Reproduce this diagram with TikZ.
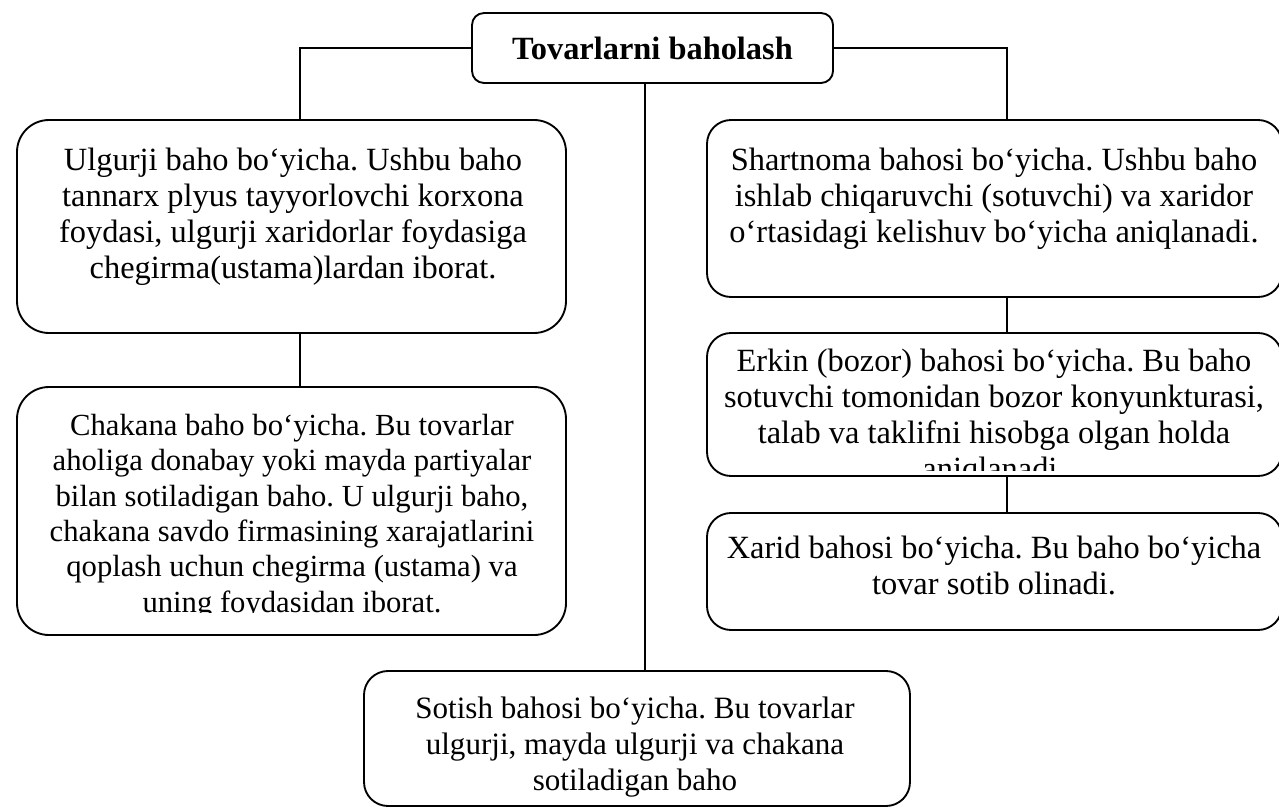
\documentclass[tikz,border=0pt]{standalone}
\usepackage{fontspec}
\setmainfont{Liberation Serif}
\usepackage{tikz}
\usetikzlibrary{positioning, fit}
\tikzstyle{box} = [draw, rectangle, line width=1.4pt, inner sep=0pt, rounded corners=24pt]
\tikzstyle{rbox} = [box, rounded corners=18pt]
\tikzstyle{txt} = [anchor=north, inner sep=0pt, align=center]
\tikzstyle{line} = [line width=1.4pt]
\frenchspacing

\begin{document}
\begin{tikzpicture}[x=0.75pt, y=-0.75pt, every node/.style={font=\fontsize{24.3}{26.9}\selectfont}]
\useasboundingbox (0,0) rectangle (1279,807);
\clip (0,0) rectangle (1279,807);

% Boxes
\node (title) [box, rounded corners=9pt, minimum width=270.75pt, minimum height=52.5pt] at (652.5,48) {\textbf{Tovarlarni baholash}};
\node (ulg) [box, fit={(17,120) (566,333)}] {};
\node (chak) [box, fit={(17,387) (566,635)}] {};
\node (shart) [rbox, fit={(707,120) (1282,297)}] {};
\node (erkin) [rbox, fit={(707,333) (1282,476)}] {};
\node (xarid) [rbox, fit={(707,513) (1282,630)}] {};
\node (sotish) [rbox, fit={(364,671) (910,806)}] {};

% Texts
\node (ulgT) [txt] at (293,148) {Ulgurji baho bo‘yicha. Ushbu baho\\ tannarx plyus tayyorlovchi korxona\\ foydasi, ulgurji xaridorlar foydasiga\\ chegirma(ustama)lardan iborat.};
\begin{scope}
\clip (17,387) rectangle (566,612);
\node (chakT) [txt, font=\fontsize{23}{26.5}\selectfont] at (292,414) {Chakana baho bo‘yicha. Bu tovarlar\\ aholiga donabay yoki mayda partiyalar\\ bilan sotiladigan baho. U ulgurji baho,\\ chakana savdo firmasining xarajatlarini\\ qoplash uchun chegirma (ustama) va\\ uning foydasidan iborat.};
\end{scope}
\node (shartT) [txt] at (994,148) {Shartnoma bahosi bo‘yicha. Ushbu baho\\ ishlab chiqaruvchi (sotuvchi) va xaridor\\ o‘rtasidagi kelishuv bo‘yicha aniqlanadi.};
\begin{scope}
\clip (707,333) rectangle (1282,470);
\node (erkinT) [txt] at (994,349) {Erkin (bozor) bahosi bo‘yicha. Bu baho\\ sotuvchi tomonidan bozor konyunkturasi,\\ talab va taklifni hisobga olgan holda\\ aniqlanadi.};
\end{scope}
\node (xaridT) [txt] at (994,536) {Xarid bahosi bo‘yicha. Bu baho bo‘yicha\\ tovar sotib olinadi.};
\node (sotishT) [txt, font=\fontsize{23.3}{27}\selectfont] at (635,697) {Sotish bahosi bo‘yicha. Bu tovarlar\\ ulgurji, mayda ulgurji va chakana\\ sotiladigan baho};

% Connectors
\coordinate (lx) at (300,0);
\coordinate (mx) at (645,0);
\coordinate (rx) at (1007,0);
\draw [line] (title.west) -| (ulg.north -| lx);
\draw [line] (title.east) -| (shart.north -| rx);
\draw [line] (title.south -| mx) -- (sotish.north -| mx);
\draw [line] (ulg.south -| lx) -- (chak.north -| lx);
\draw [line] (shart.south -| rx) -- (erkin.north -| rx);
\draw [line] (erkin.south -| rx) -- (xarid.north -| rx);
\end{tikzpicture}
\end{document}
